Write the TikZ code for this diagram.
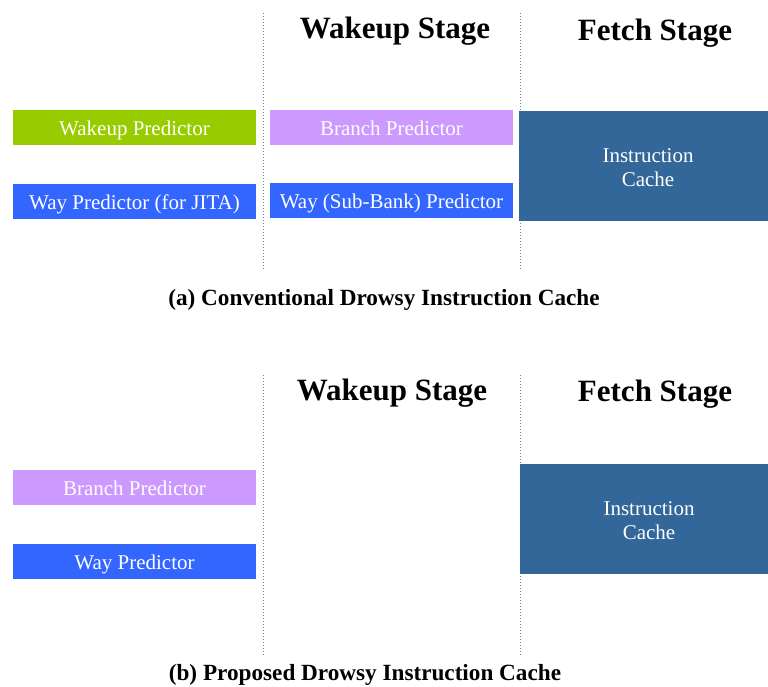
\documentclass[tikz,border=0pt]{standalone}
\usepackage{fontspec}
\setmainfont{Liberation Serif}
\usetikzlibrary{positioning}
\definecolor{wakegreen}{HTML}{99CC00}
\definecolor{branchpurple}{HTML}{CC99FF}
\definecolor{wayblue}{HTML}{3366FF}
\definecolor{cacheblue}{HTML}{336699}

\begin{document}
\begin{tikzpicture}[x=1pt,y=-1pt]
	\tikzstyle{every node}+=[inner sep=0pt]
	\tikzstyle{unit}=[rectangle, text=white, minimum width=243pt, minimum height=35pt, text height=15pt, text depth=0pt, font=\fontsize{21}{24}\selectfont]
	\tikzstyle{cache}=[rectangle, fill=cacheblue, minimum width=249pt, minimum height=110pt]
	\tikzstyle{cachetext}=[text=white, align=center, font=\fontsize{21}{24}\selectfont]
	\tikzstyle{stage}=[font=\fontsize{31}{36}\selectfont\bfseries]
	\tikzstyle{caption}=[font=\fontsize{23.2}{27}\selectfont\bfseries]
	\tikzstyle{divider}=[gray, dotted, line width=1pt]
	\useasboundingbox (0,0) rectangle (768,686);
	% (a) conventional
	\draw [divider] (263,13) -- (263,270);
	\draw [divider] (520,13) -- (520,270);
	\node [stage] (wakeA) at (395,31) {Wakeup Stage};
	\node [stage] (fetchA) at (655,33) {Fetch Stage};
	\node [unit, fill=wakegreen] (wpredA) at (134.5,127.5) {Wakeup Predictor};
	\node [unit, fill=wayblue] (waypA) at (134.5,201.5) {Way Predictor (for JITA)};
	\node [unit, fill=branchpurple] (bpredA) at (391.5,127.5) {Branch Predictor};
	\node [unit, fill=wayblue] (subwayA) at (391.5,200.5) {Way (Sub-Bank) Predictor};
	\node [cache] (icacheA) at (643.5,166) {};
	\node [cachetext] (icachetxtA) at ([xshift=4.5pt,yshift=-1.5pt]icacheA.center) {Instruction\\Cache};
	\node [caption] (capA) at (384,300) {(a) Conventional Drowsy Instruction Cache};
	% (b) proposed
	\draw [divider] (263,375) -- (263,655);
	\draw [divider] (520,375) -- (520,655);
	\node [stage] (wakeB) at (392,393) {Wakeup Stage};
	\node [stage] (fetchB) at (655,394) {Fetch Stage};
	\node [unit, fill=branchpurple] (bpredB) at (134.5,487.5) {Branch Predictor};
	\node [unit, fill=wayblue] (waypB) at (134.5,561.5) {Way Predictor};
	\node [cache] (icacheB) at (644,519) {};
	\node [cachetext] (icachetxtB) at ([xshift=5pt,yshift=-1.5pt]icacheB.center) {Instruction\\Cache};
	\node [caption] (capB) at (365,675) {(b) Proposed Drowsy Instruction Cache};
\end{tikzpicture}
\end{document}
